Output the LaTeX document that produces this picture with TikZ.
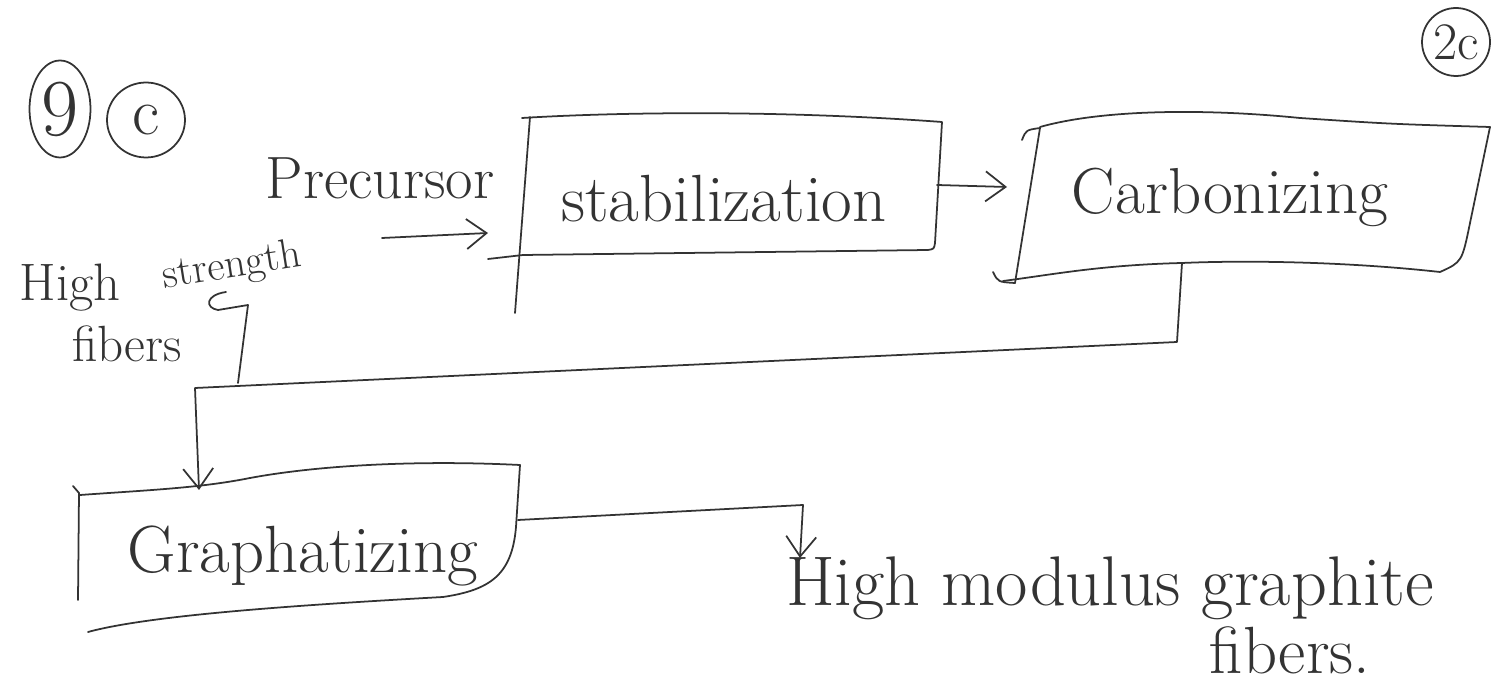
\documentclass[tikz,border=0pt]{standalone}
\usetikzlibrary{shapes.geometric,arrows.meta}
\newcommand{\bigtext}{\fontsize{38}{44}\selectfont}
\newcommand{\midtext}{\fontsize{30}{36}\selectfont}
\begin{document}
\begin{tikzpicture}[x=0.02cm, y=-0.02cm, line width=1pt, line cap=round, line join=round, color=black!80,
  hand/.style={inner sep=0pt, font=\bigtext},
  tip/.style={-{Straight Barb[length=4mm,width=6mm]}}]
\useasboundingbox (0,0) rectangle (1498,688);

% question marks
\node[draw, ellipse, minimum width=1.22cm, minimum height=1.94cm, inner sep=0pt, font=\fontsize{46}{52}\selectfont] (q) at (60,109) {9};
\node[draw, ellipse, minimum width=1.56cm, minimum height=1.5cm, inner sep=0pt, font=\bigtext] (qc) at (146,120) {c};
\node[draw, ellipse, minimum width=1.36cm, minimum height=1.36cm, inner sep=0pt, font=\midtext] (mark) at (1456,42) {2c};

% process boxes
\draw (530,117) -- (515,313);
\draw (522,118) .. controls (620,112) and (780,110) .. (942,122) -- (935,243)
      .. controls (934,249) .. (928,250) -- (523,255) -- (488,259);

\draw (1022,140) .. controls (1026,130) .. (1040,128) -- (1015,283);
\draw (993,272) .. controls (998,282) .. (1015,283);
\draw (1040,127) .. controls (1100,110) and (1200,108) .. (1300,118) .. controls (1390,124) .. (1490,127)
      -- (1470,223) .. controls (1462,262) .. (1440,272)
      .. controls (1350,262) and (1250,260) .. (1182,263) .. controls (1100,265) and (1050,275) .. (1003,281);

\draw (73,486) -- (79,493) -- (78,600);
\draw (80,495) .. controls (150,490) and (200,488) .. (250,478) .. controls (320,465) and (420,460) .. (520,465)
      -- (516,527) .. controls (512,575) and (490,590) .. (443,597)
      .. controls (300,605) and (150,615) .. (88,632);

% texts
\node[hand, font=\fontsize{34}{40}\selectfont] (pre) at (380,178) {Precursor};
\node[hand] (stab) at (724,199) {stabilization};
\node[hand, font=\fontsize{37}{43}\selectfont] (carb) at (1230,197) {Carbonizing};
\node[hand] (graph) at (303,556) {Graphatizing};
\node[hand, font=\midtext] (hs1) at (70,288) {High};
\node[hand, font=\fontsize{24}{28}\selectfont, rotate=9] (hs2) at (232,267) {strength};
\node[hand, font=\fontsize{29}{34}\selectfont] (hs3) at (127,344) {fibers};
\node[hand, font=\fontsize{40}{46}\selectfont] (hm1) at (1110,588) {High modulus graphite};
\node[hand] (hm2) at (1290,650) {fibers.};

% connectors
\coordinate (preS) at (382,238);
\coordinate (stabW) at (488,233);
\coordinate (stabE) at (937,185);
\coordinate (carbW) at (1007,187);
\coordinate (carbS) at (1182,263);
\coordinate (bend) at (1177,342);
\coordinate (back) at (195,388);
\coordinate (graphN) at (199,490);
\coordinate (hsTop) at (226,292);
\coordinate (hsBot) at (238,383);
\coordinate (graphE) at (518,520);
\coordinate (turn) at (803,505);
\coordinate (hmN) at (800,558);

\draw[tip] (preS) -- (stabW);
\draw[tip] (stabE) -- (carbW);
\draw[tip] (carbS) -- (bend) -- (back) -- (graphN);
\draw (hsTop) .. controls (205,295) and (205,308) .. (218,310) -- (248,305) -- (hsBot);
\draw[tip] (graphE) -- (turn) -- (hmN);

\end{tikzpicture}
\end{document}
